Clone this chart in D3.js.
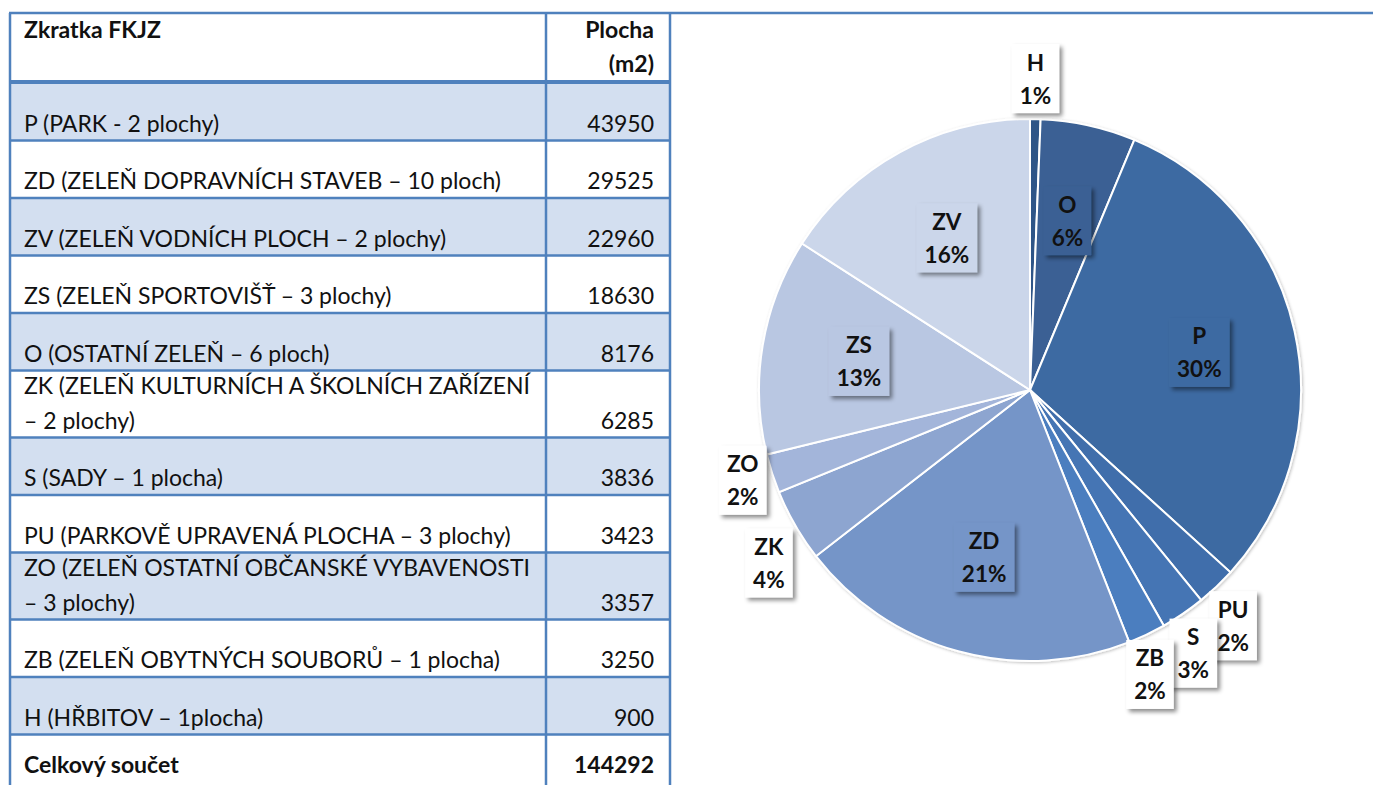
<!DOCTYPE html>
<html><head><meta charset="utf-8">
<script src="https://cdn.jsdelivr.net/npm/d3@7"></script>
<style>
html,body{margin:0;padding:0;background:#fff;}
svg{display:block;}
text{font-family:Lato,"Open Sans",sans-serif;fill:#111;}
</style></head>
<body>
<svg id="c" width="1373" height="785"></svg>
<script>
// ---------- DATA ----------
const headerLeft = "Zkratka FKJZ";
const headerRight = ["Plocha", "(m2)"];
const rowCodes = ["P","ZD","ZV","ZS","O","ZK","S","PU","ZO","ZB","H"];
const rowLabels = [
  ["P (PARK - 2 plochy)"],
  ["ZD (ZELEŇ DOPRAVNÍCH STAVEB – 10 ploch)"],
  ["ZV (ZELEŇ VODNÍCH PLOCH – 2 plochy)"],
  ["ZS (ZELEŇ SPORTOVIŠŤ – 3 plochy)"],
  ["O (OSTATNÍ ZELEŇ – 6 ploch)"],
  ["ZK (ZELEŇ KULTURNÍCH A ŠKOLNÍCH ZAŘÍZENÍ", "– 2 plochy)"],
  ["S (SADY – 1 plocha)"],
  ["PU (PARKOVĚ UPRAVENÁ PLOCHA – 3 plochy)"],
  ["ZO (ZELEŇ OSTATNÍ OBČANSKÉ VYBAVENOSTI", "– 3 plochy)"],
  ["ZB (ZELEŇ OBYTNÝCH SOUBORŮ – 1 plocha)"],
  ["H (HŘBITOV – 1plocha)"]
];
const rowValues = [43950, 29525, 22960, 18630, 8176, 6285, 3836, 3423, 3357, 3250, 900];
const totalLabel = "Celkový součet";

const pieOrder = ["H","O","P","PU","S","ZB","ZD","ZK","ZO","ZS","ZV"];
const pieColors = ["#2d5587","#3a6194","#3e6ba2","#3f6eab","#4575b4","#4b7ebf","#7495c8","#8da5d0","#a3b5da","#b9c7e2","#cbd6ea"];

// ---------- TABLE ----------
const svg = d3.select("#c");
const blue = "#4f81bd", shade = "#d3dff0";
const tX0 = 10, tX1 = 546, tX2 = 670, tTop = 13, headBottom = 83;
const oneLineH = 57.5, twoLineH = 67;
const heights = rowLabels.map(l => l.length === 1 ? oneLineH : twoLineH);
const tops = []; let acc = headBottom;
heights.forEach(h => { tops.push(acc); acc += h; });
const totalTop = acc;
const total = d3.sum(rowValues);

const tbl = svg.append("g");
tbl.selectAll("rect.sh").data(rowValues).enter().append("rect")
  .attr("x", tX0).attr("width", tX2 - tX0)
  .attr("y", (d,i) => tops[i]).attr("height", (d,i) => heights[i])
  .attr("fill", (d,i) => i % 2 === 0 ? shade : "#fff");

const fs = 23;
tbl.append("text").attr("x", 24).attr("y", 38).attr("font-size", fs).attr("font-weight", "bold").text(headerLeft);
headerRight.forEach((t, i) => tbl.append("text").attr("x", 654).attr("y", 38 + i*34)
  .attr("text-anchor", "end").attr("font-size", fs).attr("font-weight", "bold").text(t));

rowLabels.forEach((lines, i) => {
  const bottom = tops[i] + heights[i];
  lines.forEach((t, j) => {
    const tx = tbl.append("text").attr("x", 24).attr("y", bottom - 9 - (lines.length - 1 - j) * 35)
      .attr("font-size", fs).text(t);
    if (lines.length > 1 && j === 0) tx.attr("textLength", 506).attr("lengthAdjust", "spacing");
  });
  tbl.append("text").attr("x", 654).attr("y", bottom - 9).attr("text-anchor", "end")
    .attr("font-size", fs).text(rowValues[i]);
});
tbl.append("text").attr("x", 24).attr("y", 773).attr("font-size", fs).attr("font-weight", "bold").text(totalLabel);
tbl.append("text").attr("x", 654).attr("y", 773).attr("text-anchor", "end").attr("font-size", fs).attr("font-weight", "bold").text(total);

// lines
tops.slice(1).concat([totalTop]).forEach(y => tbl.append("line").attr("x1", tX0).attr("x2", tX2).attr("y1", y).attr("y2", y).attr("stroke", blue).attr("stroke-width", 2.5));
tbl.append("line").attr("x1", tX0).attr("x2", tX2).attr("y1", headBottom - 1).attr("y2", headBottom - 1).attr("stroke", blue).attr("stroke-width", 4);
tbl.append("line").attr("x1", tX0 - 1).attr("x2", 1373).attr("y1", tTop).attr("y2", tTop).attr("stroke", blue).attr("stroke-width", 2.5);
[tX0, tX1, tX2].forEach(x => tbl.append("line").attr("x1", x).attr("x2", x).attr("y1", tTop).attr("y2", 785).attr("stroke", blue).attr("stroke-width", 2.5));

// ---------- PIE ----------
const cx = 1030, cy = 390, R = 271;
const valueOf = code => rowValues[rowCodes.indexOf(code)];
const pieData = pieOrder.map((c, i) => ({code: c, value: valueOf(c), color: pieColors[i]}));
// percentages rounded with the largest-remainder method (sum to 100)
const raw = pieData.map(d => d.value / total * 100);
const pcts = raw.map(Math.floor);
let missing = 100 - d3.sum(pcts);
raw.map((v, i) => [v - Math.floor(v), i]).sort((a, b) => b[0] - a[0]).slice(0, missing).forEach(([, i]) => pcts[i]++);
pieData.forEach((d, i) => d.pct = pcts[i]);

const pie = d3.pie().sort(null).value(d => d.value);
const arcs = pie(pieData);
const arc = d3.arc().innerRadius(0).outerRadius(R);

const defs = svg.append("defs");
const f = defs.append("filter").attr("id", "sh").attr("x", "-30%").attr("y", "-30%").attr("width", "170%").attr("height", "170%");
f.append("feDropShadow").attr("dx", 3).attr("dy", 3).attr("stdDeviation", 2.2).attr("flood-color", "#000").attr("flood-opacity", 0.45);
const fp = defs.append("filter").attr("id", "psh").attr("x", "-10%").attr("y", "-10%").attr("width", "120%").attr("height", "120%");
fp.append("feDropShadow").attr("dx", 1).attr("dy", 1).attr("stdDeviation", 1.5).attr("flood-color", "#000").attr("flood-opacity", 0.25);

const pg = svg.append("g").attr("transform", `translate(${cx},${cy})`);
pg.append("g").attr("filter", "url(#psh)").selectAll("path").data(arcs).enter().append("path")
  .attr("d", arc).attr("fill", d => d.data.color).attr("stroke", "#fff").attr("stroke-width", 2);

const lg = pg.append("g");
const boxH = 69, lfs = 22.5, gap = 6;
const clamp = (v, lo, hi) => Math.max(lo, Math.min(hi, v));
const sx = t => Math.sign(t) * clamp((Math.abs(t) - 0.42) / 0.5, 0, 1);
const sy = t => Math.sign(t) * clamp((Math.abs(t) - 0.28) / 0.2, 0, 1);
arcs.forEach(a => {
  const mid = (a.startAngle + a.endAngle) / 2;
  const outside = a.data.value / total < 0.05;
  const g = lg.append("g");
  const rect = g.append("rect");
  const t1 = g.append("text").attr("text-anchor", "middle").attr("y", -8).attr("font-size", lfs).attr("font-weight", "bold").text(a.data.code);
  const t2 = g.append("text").attr("text-anchor", "middle").attr("y", 25).attr("font-size", lfs).attr("font-weight", "bold").text(a.data.pct + "%");
  const w = Math.max(t1.node().getComputedTextLength(), t2.node().getComputedTextLength()) + 16;
  const ux = Math.sin(mid), uy = -Math.cos(mid);
  let x, y;
  if (outside) {
    // box placed outside the rim, touching the slice's mid point
    x = (R + gap) * ux + (w / 2) * sx(ux);
    y = (R + gap) * uy + (boxH / 2) * sy(uy);
  } else {
    x = R * 0.64 * ux; y = R * 0.64 * uy;
  }
  g.attr("transform", `translate(${x},${y})`);
  rect.attr("x", -w/2).attr("y", -boxH/2).attr("width", w).attr("height", boxH)
    .attr("fill", outside ? "#fff" : a.data.color).attr("filter", "url(#sh)");
});
</script>
</body></html>
